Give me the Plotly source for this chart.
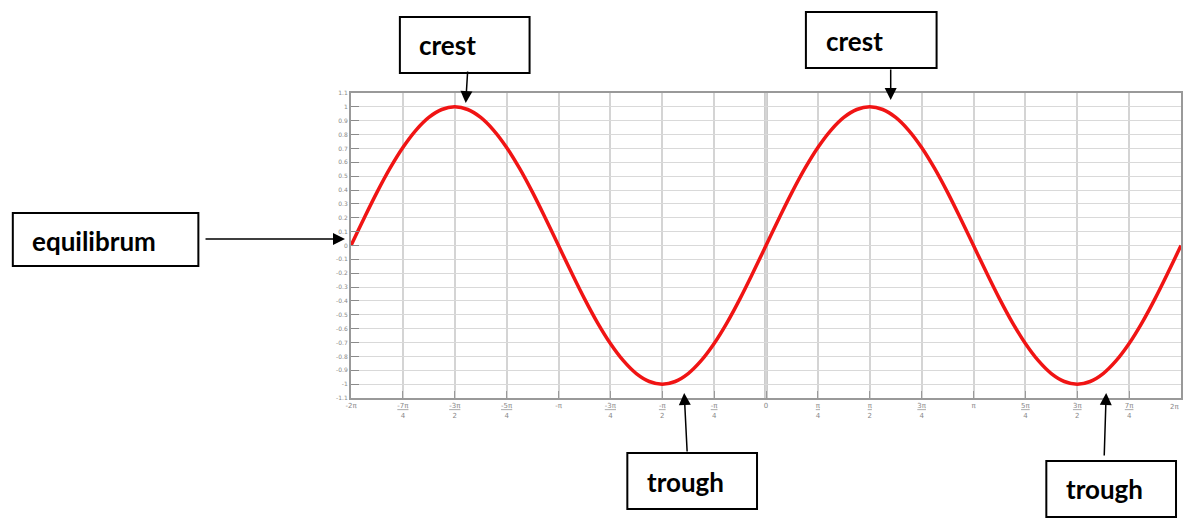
import plotly.graph_objects as go

# ---- data (x in units of pi, step pi/16) ----
x_pi = [-2.0, -1.9375, -1.875, -1.8125, -1.75, -1.6875, -1.625, -1.5625, -1.5,
        -1.4375, -1.375, -1.3125, -1.25, -1.1875, -1.125, -1.0625, -1.0,
        -0.9375, -0.875, -0.8125, -0.75, -0.6875, -0.625, -0.5625, -0.5,
        -0.4375, -0.375, -0.3125, -0.25, -0.1875, -0.125, -0.0625, 0.0,
        0.0625, 0.125, 0.1875, 0.25, 0.3125, 0.375, 0.4375, 0.5,
        0.5625, 0.625, 0.6875, 0.75, 0.8125, 0.875, 0.9375, 1.0,
        1.0625, 1.125, 1.1875, 1.25, 1.3125, 1.375, 1.4375, 1.5,
        1.5625, 1.625, 1.6875, 1.75, 1.8125, 1.875, 1.9375, 2.0]
y_vals = [0.0, 0.195, 0.383, 0.556, 0.707, 0.831, 0.924, 0.981, 1.0,
          0.981, 0.924, 0.831, 0.707, 0.556, 0.383, 0.195, 0.0,
          -0.195, -0.383, -0.556, -0.707, -0.831, -0.924, -0.981, -1.0,
          -0.981, -0.924, -0.831, -0.707, -0.556, -0.383, -0.195, 0.0,
          0.195, 0.383, 0.556, 0.707, 0.831, 0.924, 0.981, 1.0,
          0.981, 0.924, 0.831, 0.707, 0.556, 0.383, 0.195, 0.0,
          -0.195, -0.383, -0.556, -0.707, -0.831, -0.924, -0.981, -1.0,
          -0.981, -0.924, -0.831, -0.707, -0.556, -0.383, -0.195, 0.0]

x_tick_vals = [-2, -1.75, -1.5, -1.25, -1, -0.75, -0.5, -0.25, 0,
               0.25, 0.5, 0.75, 1, 1.25, 1.5, 1.75, 2]
x_tick_text = ["-2π", "<u>-7π</u><br>4", "<u>-3π</u><br>2", "<u>-5π</u><br>4", "-π",
               "<u>-3π</u><br>4", "<u>-π</u><br>2", "<u>-π</u><br>4", "0",
               "<u>π</u><br>4", "<u>π</u><br>2", "<u>3π</u><br>4", "π",
               "<u>5π</u><br>4", "<u>3π</u><br>2", "<u>7π</u><br>4", "2π"]
y_tick_vals = [1.1, 1.0, 0.9, 0.8, 0.7, 0.6, 0.5, 0.4, 0.3, 0.2, 0.1, 0.0,
               -0.1, -0.2, -0.3, -0.4, -0.5, -0.6, -0.7, -0.8, -0.9, -1.0, -1.1]
y_tick_text = ["1.1", "1", "0.9", "0.8", "0.7", "0.6", "0.5", "0.4", "0.3", "0.2", "0.1", "0",
               "-0.1", "-0.2", "-0.3", "-0.4", "-0.5", "-0.6", "-0.7", "-0.8", "-0.9", "-1", "-1.1"]

labels = ["crest", "crest", "equilibrum", "trough", "trough"]

# ---- layout geometry (pixels) ----
W, H = 1187, 518
L, R, T, B = 351, 1183, 93, 398


def px(X):
    return (X - L) / (R - L)


def py(Y):
    return (B - Y) / (B - T)


# boxes: (x0, y0, x1, y1, text_x, text_y)
boxes = [
    (400, 17, 530, 73, 417, 45),
    (807, 12, 938, 68, 825, 41),
    (12, 213, 198, 266, 29, 241),
    (628, 453, 758, 509, 646, 482),
    (1048, 461, 1178, 517, 1066, 489),
]
# arrows: (tail_x, tail_y, head_x, head_y)
arrows = [
    (468, 70, 466, 103),
    (892, 68, 892, 100),
    (204, 239, 345, 239),
    (688, 453, 685, 393),
    (1106, 457, 1108, 393),
]

fig = go.Figure()
fig.add_trace(go.Scatter(x=x_pi, y=y_vals, mode="lines", line_shape="spline",
                         line=dict(color="#f01414", width=3.5), hoverinfo="skip",
                         showlegend=False))

shapes = []
annotations = []
for (x0, y0, x1, y1, tx, ty), lab in zip(boxes, labels):
    shapes.append(dict(type="rect", xref="paper", yref="paper",
                       x0=px(x0), x1=px(x1), y0=py(y1), y1=py(y0),
                       line=dict(color="black", width=2), fillcolor="white", layer="above"))
    annotations.append(dict(xref="paper", yref="paper", x=px(tx), y=py(ty),
                            xanchor="left", yanchor="middle", text="<b>" + lab + "</b>",
                            showarrow=False,
                            font=dict(family="Lato", size=26, color="black")))
for (tx, ty, hx, hy) in arrows:
    annotations.append(dict(xref="paper", yref="paper", x=px(hx), y=py(hy),
                            ax=tx - hx, ay=ty - hy, axref="pixel", ayref="pixel",
                            text="", showarrow=True, arrowhead=2, arrowsize=1.6,
                            arrowwidth=1.5, arrowcolor="black", standoff=0, startstandoff=0))

# last x tick label drawn right-anchored so it stays inside the page
annotations.append(dict(xref="x", yref="paper", x=x_tick_vals[-1], y=py(401),
                        xanchor="right", yanchor="top", text=x_tick_text[-1], showarrow=False,
                        font=dict(family="DejaVu Sans", size=7, color="#888888")))
x_tick_text_axis = x_tick_text[:-1] + [""]

# emphasised lines: x=0 vertical and y=0 horizontal
shapes.append(dict(type="line", xref="x", yref="paper", x0=0, x1=0, y0=0, y1=1,
                   line=dict(color="#999999", width=3), layer="below"))
shapes.append(dict(type="line", xref="paper", yref="y", x0=0, x1=1, y0=0, y1=0,
                   line=dict(color="#555555", width=1.2), layer="below"))

fig.update_layout(
    width=W, height=H,
    margin=dict(l=L, r=W - R, t=T, b=H - B),
    paper_bgcolor="white", plot_bgcolor="white",
    shapes=shapes, annotations=annotations,
    xaxis=dict(range=[-2, 2], tickmode="array", tickvals=x_tick_vals, ticktext=x_tick_text_axis,
               showgrid=True, gridcolor="#d4d4d4", gridwidth=2, zeroline=False,
               showline=True, linecolor="#999999", linewidth=2, mirror=True,
               ticks="inside", ticklen=7, tickcolor="#9a9a9a", tickwidth=1,
               tickfont=dict(family="DejaVu Sans", size=7, color="#888888")),
    yaxis=dict(range=[-1.1, 1.1], tickmode="array", tickvals=y_tick_vals, ticktext=y_tick_text,
               showgrid=True, gridcolor="#d9d9d9", gridwidth=1, zeroline=False,
               showline=True, linecolor="#999999", linewidth=2, mirror=True,
               ticks="inside", ticklen=8, tickcolor="#8a8a8a", tickwidth=1,
               tickfont=dict(family="DejaVu Sans", size=6, color="#888888")),
)

fig.write_html("out.html", config={"displayModeBar": False},
               post_script="document.body.style.margin='0';document.body.style.overflow='hidden';")
